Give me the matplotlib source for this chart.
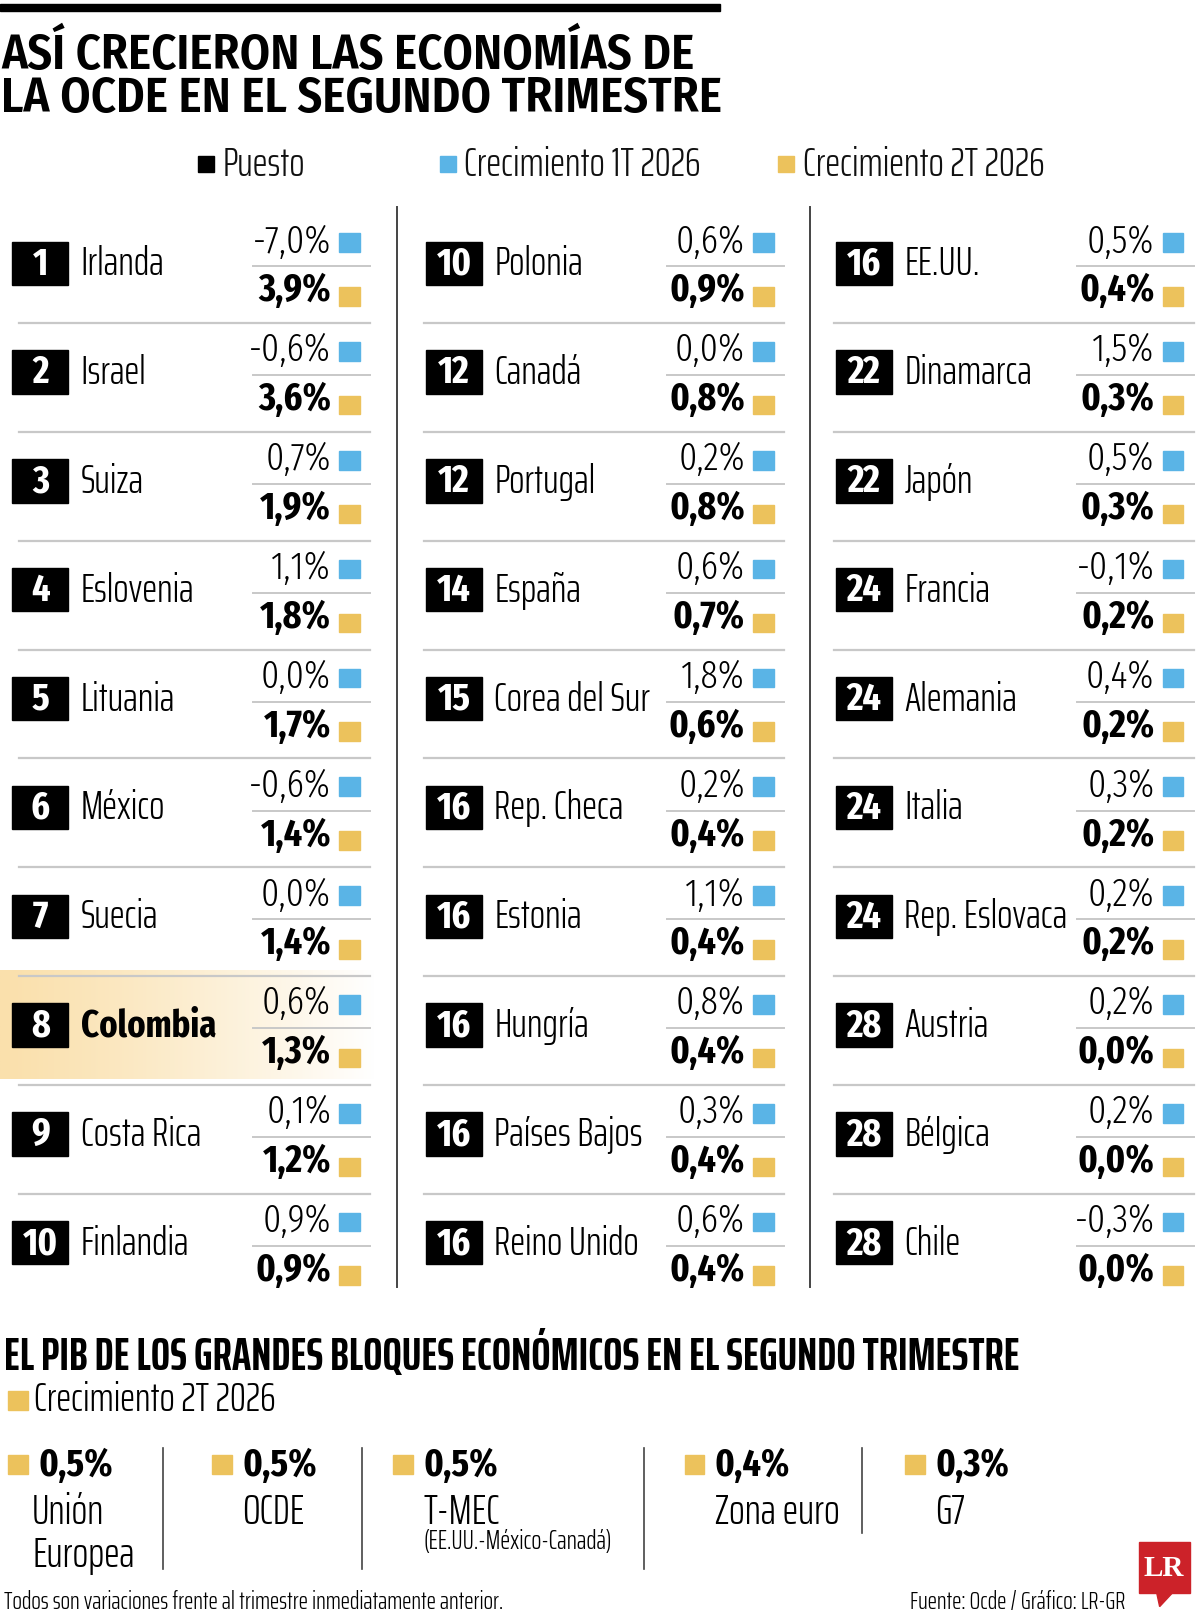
import numpy as np
import matplotlib.pyplot as plt
from matplotlib.patches import Rectangle, Polygon

# condensed faces close to the newspaper's Myriad Condensed
XC = ["Fira Sans Extra Condensed", "DejaVu Sans"]     # numbers
SAIRA = ["Saira ExtraCondensed", "DejaVu Sans"]       # words
SC = ["Fira Sans Condensed", "DejaVu Sans"]           # main title
plt.rcParams["font.family"] = XC

BLUE = "#5ab4e6"
GOLD = "#ecc25c"
GRID = "#c8c8c8"

# ---- data ----
ranks = [1, 2, 3, 4, 5, 6, 7, 8, 9, 10,
         10, 12, 12, 14, 15, 16, 16, 16, 16, 16,
         16, 22, 22, 24, 24, 24, 24, 28, 28, 28]
countries = ["Irlanda", "Israel", "Suiza", "Eslovenia", "Lituania", "México",
             "Suecia", "Colombia", "Costa Rica", "Finlandia",
             "Polonia", "Canadá", "Portugal", "España", "Corea del Sur",
             "Rep. Checa", "Estonia", "Hungría", "Países Bajos", "Reino Unido",
             "EE.UU.", "Dinamarca", "Japón", "Francia", "Alemania", "Italia",
             "Rep. Eslovaca", "Austria", "Bélgica", "Chile"]
growth_1t = [-7.0, -0.6, 0.7, 1.1, 0.0, -0.6, 0.0, 0.6, 0.1, 0.9,
             0.6, 0.0, 0.2, 0.6, 1.8, 0.2, 1.1, 0.8, 0.3, 0.6,
             0.5, 1.5, 0.5, -0.1, 0.4, 0.3, 0.2, 0.2, 0.2, -0.3]
growth_2t = [3.9, 3.6, 1.9, 1.8, 1.7, 1.4, 1.4, 1.3, 1.2, 0.9,
             0.9, 0.8, 0.8, 0.7, 0.6, 0.4, 0.4, 0.4, 0.4, 0.4,
             0.4, 0.3, 0.3, 0.2, 0.2, 0.2, 0.2, 0.0, 0.0, 0.0]
highlight = "Colombia"

blocs = ["Unión\nEuropea", "OCDE", "T-MEC", "Zona euro", "G7"]
bloc_notes = ["", "", "(EE.UU.-México-Canadá)", "", ""]
bloc_growth = [0.5, 0.5, 0.5, 0.4, 0.3]


def pct(v):
    return f"{v:.1f}%".replace(".", ",")


fig = plt.figure(figsize=(12, 16.19), dpi=100)
ax = fig.add_axes([0, 0, 1, 1])
ax.set_xlim(0, 1160)
ax.set_ylim(1568, 0)
ax.axis("off")

# header
ax.add_patch(Rectangle((0, 4), 696, 7, color="black"))
ax.text(1, 54, "ASÍ CRECIERON LAS ECONOMÍAS DE", family=SC, fontsize=35,
        fontweight=600, va="center", ha="left")
ax.text(1, 96, "LA OCDE EN EL SEGUNDO TRIMESTRE", family=SC, fontsize=35,
        fontweight=600, va="center", ha="left")

legend = [("Puesto", "black", 191), ("Crecimiento 1T 2026", BLUE, 425),
          ("Crecimiento 2T 2026", GOLD, 752)]
for label, col, x in legend:
    ax.add_patch(Rectangle((x, 151), 16, 16, color=col))
    ax.text(x + 24, 160, label, family=SAIRA, fontsize=29, fontweight=300,
            va="center", ha="left", color="#111111")

# separators between columns
for x in (384, 783):
    ax.plot([x, x], [200, 1246], color="#444444", lw=1.4)

col_x = [12, 412, 808]
y0, step = 255, 105.4
for i, (rk, name, v1, v2) in enumerate(zip(ranks, countries, growth_1t, growth_2t)):
    c, r = divmod(i, 10)
    bx = col_x[c]
    yc = y0 + r * step
    if name == highlight:
        grad = np.linspace(0, 1, 256) ** 1.2
        base = np.array([250, 224, 172]) / 255
        img = base[None, None, :] * (1 - grad[None, :, None]) + grad[None, :, None]
        ax.imshow(img, extent=[0, 362, yc + 52, yc - 53], aspect="auto", zorder=0)
    if r < 9:
        ax.plot([bx + (6 if c == 0 else -2), bx + 346], [yc + 58, yc + 58],
                color=GRID, lw=1.6, zorder=1)
    ax.add_patch(Rectangle((bx, yc - 21), 54, 42, color="black", zorder=2))
    ax.text(bx + 27, yc + 1, str(rk), color="white", fontsize=28, fontweight=700,
            ha="center", va="center", zorder=3)
    if name == highlight:
        ax.text(bx + 66, yc + 1, name, fontsize=27, fontweight=700,
                ha="left", va="center", zorder=3)
    else:
        ax.text(bx + 66, yc + 1, name, family=SAIRA, fontsize=29, fontweight=300,
                ha="left", va="center", zorder=3)
    ax.plot([bx + 233, bx + 346], [yc + 3, yc + 3], color=GRID, lw=1.4, zorder=1)
    ax.text(bx + 308, yc - 21, pct(v1), fontsize=28, fontweight=300,
            ha="right", va="center", zorder=3)
    ax.text(bx + 308, yc + 27, pct(v2), fontsize=28, fontweight=700,
            ha="right", va="center", zorder=3)
    ax.add_patch(Rectangle((bx + 316, yc - 29), 20, 18, color=BLUE, zorder=2))
    ax.add_patch(Rectangle((bx + 316, yc + 23), 20, 18, color=GOLD, zorder=2))

# bottom section
ax.text(4, 1313, "EL PIB DE LOS GRANDES BLOQUES ECONÓMICOS EN EL SEGUNDO TRIMESTRE",
        family=SAIRA, fontsize=33, fontweight=700, ha="left", va="center")
ax.add_patch(Rectangle((8, 1347), 19, 19, color=GOLD))
ax.text(33, 1356, "Crecimiento 2T 2026", family=SAIRA, fontsize=29, fontweight=300,
        ha="left", va="center")

bloc_x = [8, 205, 380, 662, 875]
for x in (158, 350, 623):
    ax.plot([x, x], [1402, 1520], color="#444444", lw=1.2)
ax.plot([833, 833], [1402, 1485], color="#444444", lw=1.2)
for bx, label, note, val in zip(bloc_x, blocs, bloc_notes, bloc_growth):
    ax.add_patch(Rectangle((bx, 1409), 19, 19, color=GOLD))
    ax.text(bx + 29, 1420, pct(val), fontsize=28, fontweight=700,
            ha="left", va="center")
    lx = bx + 23 if "\n" in label else bx + 29
    ax.text(lx, 1445, label, family=SAIRA, fontsize=30, fontweight=300,
            ha="left", va="top", linespacing=1.08)
    if note:
        ax.text(bx + 29, 1493, note, family=SAIRA, fontsize=19, fontweight=300,
                ha="left", va="center")

ax.text(4, 1552, "Todos son variaciones frente al trimestre inmediatamente anterior.",
        family=SAIRA, fontsize=18, fontweight=300, ha="left", va="center")
ax.text(1088, 1552, "Fuente: Ocde / Gráfico: LR-GR", family=SAIRA, fontsize=18,
        fontweight=300, ha="right", va="center")

# LR logo
ax.add_patch(Rectangle((1101, 1493), 49, 50, color="#cc2229"))
ax.add_patch(Polygon([[1118, 1542], [1134, 1542], [1121, 1556]], closed=True, color="#cc2229"))
ax.text(1125, 1519, "LR", color="white", fontsize=21, fontweight="bold",
        family=["Liberation Serif", "DejaVu Serif"], ha="center", va="center")

fig.savefig("out.png", dpi=100)
